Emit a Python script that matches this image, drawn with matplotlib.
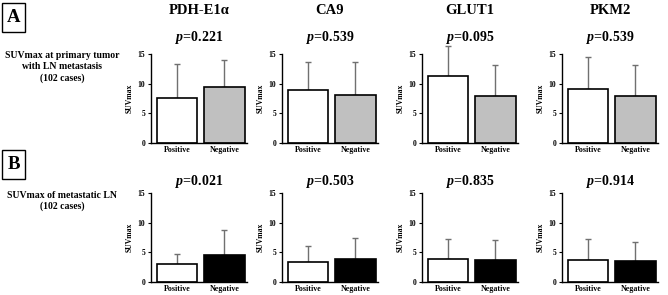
import matplotlib
matplotlib.use("Agg")
import matplotlib.pyplot as plt
from matplotlib.patches import Rectangle

plt.rcParams['font.family'] = ['Liberation Serif', 'DejaVu Serif']
plt.rcParams['font.weight'] = 'bold'
plt.rcParams['mathtext.fontset'] = 'custom'
plt.rcParams['mathtext.it'] = 'Liberation Serif:bold:italic'
plt.rcParams['mathtext.rm'] = 'Liberation Serif:bold'
plt.rcParams['mathtext.bf'] = 'Liberation Serif:bold'

markers = ["PDH-E1α", "CA9", "GLUT1", "PKM2"]
groups = ["Positive", "Negative"]

# Row A: SUVmax at primary tumor
primary_mean = [[7.6, 9.4], [9.0, 8.1], [11.3, 7.9], [9.1, 7.9]]
primary_top = [[13.3, 14.0], [13.7, 13.6], [16.3, 13.2], [14.5, 13.2]]
primary_p = ["0.221", "0.539", "0.095", "0.539"]

# Row B: SUVmax of metastatic LN
ln_mean = [[3.0, 4.5], [3.4, 3.9], [3.8, 3.7], [3.7, 3.6]]
ln_top = [[4.7, 8.8], [6.0, 7.5], [7.2, 7.0], [7.2, 6.8]]
ln_p = ["0.021", "0.503", "0.835", "0.914"]

W, H = 668, 295
fig = plt.figure(figsize=(W / 100, H / 100), dpi=100)

lefts = [151, 282, 422, 562]
width = 96

def px_axes(x, y_top, w, h):
    return fig.add_axes([x / W, 1 - (y_top + h) / H, w / W, h / H])

rows = [
    (54, primary_mean, primary_top, primary_p, "#c0c0c0", 37),
    (193, ln_mean, ln_top, ln_p, "#000000", 182),
]

for r, (ytop, means, tops, ps, negcol, py) in enumerate(rows):
    for i in range(4):
        ax = px_axes(lefts[i], ytop, width, 89)
        m = means[i]
        t = tops[i]
        err = [[0, 0], [t[0] - m[0], t[1] - m[1]]]
        eb = ax.errorbar([0, 1], m, yerr=err, fmt='none', ecolor='#707070',
                         elinewidth=1.0, capsize=2.5, capthick=1.0, zorder=1)
        for art in eb.lines[1] + eb.lines[2]:
            art.set_clip_on(False)
        for art in eb.lines[2]:
            art.set_clip_on(False)
        ax.bar([0, 1], m, width=0.86, color=['white', negcol],
               edgecolor='black', linewidth=1.2, zorder=2)
        ax.set_xlim(-0.55, 1.48)
        ax.set_ylim(0, 15)
        ax.set_yticks([0, 5, 10, 15])
        ax.set_xticks([0, 1])
        ax.set_xticklabels(groups, fontsize=5.8, fontweight='bold')
        ax.tick_params(axis='y', labelsize=5.5, length=2, width=0.8, pad=2)
        ax.tick_params(axis='x', length=0, pad=2)
        for lab in ax.get_yticklabels():
            lab.set_fontweight('bold')
        ax.spines['top'].set_visible(False)
        ax.spines['right'].set_visible(False)
        ax.spines['left'].set_linewidth(1.0)
        ax.spines['bottom'].set_linewidth(1.0)
        ax.set_ylabel("SUVmax", fontsize=5.5, fontweight='bold', labelpad=3)
        cx = (lefts[i] + width / 2) / W
        fig.text(cx, 1 - py / H, "$p$=" + ps[i],
                 ha='center', va='center', fontsize=10, fontweight='bold')
        if r == 0:
            fig.text(cx, 1 - 11 / H, markers[i], ha='center', va='center',
                     fontsize=10.5, fontweight='bold')

# Panel letters with boxes
for letter, (bx, by) in zip(["A", "B"], [(2, 3), (2, 150)]):
    fig.patches.append(Rectangle((bx / W, 1 - (by + 29) / H), 23 / W, 29 / H,
                                 transform=fig.transFigure, fill=False,
                                 edgecolor='black', linewidth=1.0))
    fig.text((bx + 11.5) / W, 1 - (by + 14.5) / H, letter, ha='center',
             va='center', fontsize=13.5, fontweight='bold')

fig.text(62 / W, 1 - 67 / H, "SUVmax at primary tumor\nwith LN metastasis\n(102 cases)",
         ha='center', va='center', fontsize=7, fontweight='bold', linespacing=1.3)
fig.text(62 / W, 1 - 201 / H, "SUVmax of metastatic LN\n(102 cases)",
         ha='center', va='center', fontsize=7, fontweight='bold', linespacing=1.3)

fig.savefig("out.png", dpi=100)
